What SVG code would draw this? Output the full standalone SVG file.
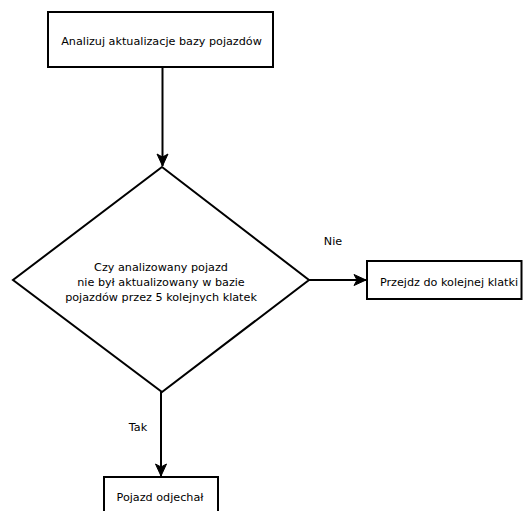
<svg xmlns="http://www.w3.org/2000/svg" width="523" height="511" viewBox="0 0 523 511">
<style>
.shape{fill:#fff;stroke:#000;stroke-width:2}
.conn{fill:none;stroke:#000;stroke-width:2}
text{font-family:"DejaVu Sans","Liberation Sans",sans-serif;font-size:11.2px;fill:#000}
.c{text-anchor:middle}
</style>
<defs>
<marker id="arr" markerUnits="userSpaceOnUse" markerWidth="14" markerHeight="14" viewBox="0 0 14 14" refX="13" refY="7" orient="auto">
<path d="M1,1.5 L13,7 L1,12.5 L4,7 Z" fill="#000" stroke="#000" stroke-width="1"/>
</marker>
</defs>
<rect width="523" height="511" fill="#fff"/>
<g id="connectors">
<path class="conn" d="M162.5,67 L162.5,166" marker-end="url(#arr)"/>
<path class="conn" d="M309,280 L366,280" marker-end="url(#arr)"/>
<path class="conn" d="M161,392 L161,476" marker-end="url(#arr)"/>
<text x="333" y="245" class="c">Nie</text>
<text x="138" y="431" class="c">Tak</text>
</g>
<g id="node-analizuj">
<rect class="shape" x="48" y="12" width="225" height="55"/>
<text x="161.5" y="44.5" class="c">Analizuj aktualizacje bazy pojazdów</text>
</g>
<g id="node-decision">
<path class="shape" d="M162,167 L309,280 L162,392 L13,280 Z"/>
<text x="161" y="270.5" class="c">Czy analizowany pojazd</text>
<text x="161" y="285.5" class="c">nie był aktualizowany w  bazie</text>
<text x="161" y="301" class="c">pojazdów przez 5 kolejnych klatek</text>
</g>
<g id="node-przejdz">
<rect class="shape" x="367" y="261" width="154.5" height="38"/>
<text x="449" y="285.5" class="c">Przejdz do kolejnej klatki</text>
</g>
<g id="node-odjechal">
<rect class="shape" x="104" y="477" width="114" height="45"/>
<text x="160" y="501" class="c">Pojazd odjechał</text>
</g>
</svg>
